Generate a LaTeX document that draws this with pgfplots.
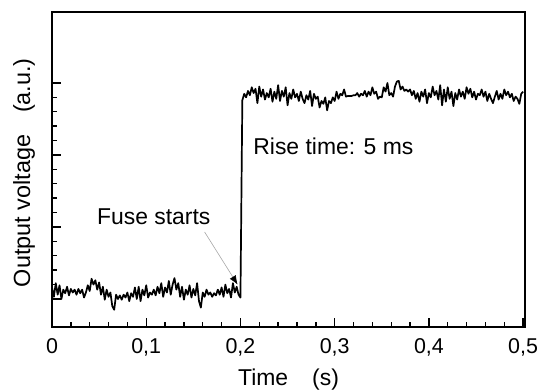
\documentclass[border=0pt]{standalone}
\usepackage{pgfplots}
\pgfplotsset{compat=1.18}
\usepackage{fontspec}
\setmainfont{Liberation Sans}
\usetikzlibrary{arrows.meta}
\pgfplotstableread{
t v
0.000 1.16
0.002 1.03
0.004 1.22
0.006 1.06
0.008 1.19
0.010 1.00
0.012 1.13
0.014 1.08
0.016 1.17
0.018 1.05
0.020 1.14
0.022 1.09
0.024 1.13
0.026 1.06
0.028 1.14
0.030 1.08
0.032 1.13
0.034 1.02
0.036 1.09
0.038 1.19
0.040 1.11
0.042 1.28
0.044 1.20
0.046 1.26
0.048 1.13
0.050 1.23
0.052 1.06
0.054 1.17
0.056 0.99
0.058 1.13
0.060 1.03
0.062 1.09
0.064 0.90
0.066 0.85
0.068 1.06
0.070 1.00
0.072 1.05
0.074 0.99
0.076 1.06
0.078 1.02
0.080 1.09
0.082 0.97
0.084 1.08
0.086 1.03
0.088 1.16
0.090 1.00
0.092 1.17
0.094 0.97
0.096 1.13
0.098 1.05
0.100 1.19
0.102 1.02
0.104 1.09
0.106 1.06
0.108 1.13
0.110 1.05
0.112 1.17
0.114 1.08
0.116 1.22
0.118 1.03
0.120 1.16
0.122 1.09
0.124 1.25
0.126 1.06
0.128 1.20
0.130 1.29
0.132 1.13
0.134 1.22
0.136 1.03
0.138 1.17
0.140 0.99
0.142 1.13
0.144 1.06
0.146 1.19
0.148 1.02
0.150 1.14
0.152 1.05
0.154 1.22
0.156 0.97
0.158 0.88
0.160 1.09
0.162 1.03
0.164 1.13
0.166 1.06
0.168 1.09
0.170 1.03
0.172 1.08
0.174 1.05
0.176 1.13
0.178 1.06
0.180 1.16
0.182 1.03
0.184 1.20
0.186 1.08
0.188 1.14
0.190 1.02
0.192 1.22
0.194 1.09
0.196 1.17
0.198 1.06
0.200 1.02
0.202 3.76
0.204 3.85
0.206 3.80
0.208 3.89
0.210 3.83
0.212 3.94
0.214 3.86
0.216 3.92
0.218 3.72
0.220 3.95
0.222 3.81
0.224 3.91
0.226 3.77
0.228 3.86
0.230 3.80
0.232 3.92
0.234 3.74
0.236 3.88
0.238 3.78
0.240 3.97
0.242 3.75
0.244 3.89
0.246 3.81
0.248 3.94
0.250 3.69
0.252 3.86
0.254 3.78
0.256 3.91
0.258 3.80
0.260 3.85
0.262 3.75
0.264 3.88
0.266 3.78
0.268 3.72
0.270 3.83
0.272 3.77
0.274 3.89
0.276 3.68
0.278 3.85
0.280 3.78
0.282 3.81
0.284 3.66
0.286 3.75
0.288 3.71
0.290 3.80
0.292 3.62
0.294 3.75
0.296 3.72
0.298 3.80
0.300 3.75
0.302 3.88
0.304 3.78
0.306 3.85
0.308 3.83
0.310 3.91
0.312 3.81
0.314 3.82
0.316 3.82
0.318 3.82
0.320 3.83
0.322 3.83
0.324 3.86
0.326 3.81
0.328 3.85
0.330 3.83
0.332 3.89
0.334 3.81
0.336 3.88
0.338 3.83
0.340 3.94
0.342 3.85
0.344 3.88
0.346 3.78
0.348 3.81
0.350 3.80
0.352 3.94
0.354 3.88
0.356 4.00
0.358 3.83
0.360 3.86
0.362 3.81
0.364 3.95
0.366 4.02
0.368 4.03
0.370 3.91
0.372 3.95
0.374 3.89
0.376 3.91
0.378 3.88
0.380 3.91
0.382 3.83
0.384 3.89
0.386 3.78
0.388 3.86
0.390 3.74
0.392 3.88
0.394 3.81
0.396 3.91
0.398 3.72
0.400 3.86
0.402 3.80
0.404 3.95
0.406 3.83
0.408 3.89
0.410 3.77
0.412 3.97
0.414 3.69
0.416 3.91
0.418 3.74
0.420 3.94
0.422 3.78
0.424 3.88
0.426 3.68
0.428 3.86
0.430 3.77
0.432 3.91
0.434 3.81
0.436 3.88
0.438 3.78
0.440 3.94
0.442 3.85
0.444 3.92
0.446 3.80
0.448 3.88
0.450 3.77
0.452 3.85
0.454 3.83
0.456 3.91
0.458 3.81
0.460 3.88
0.462 3.75
0.464 3.85
0.466 3.78
0.468 3.72
0.470 3.81
0.472 3.89
0.474 3.77
0.476 3.85
0.478 3.78
0.480 3.91
0.482 3.83
0.484 3.88
0.486 3.80
0.488 3.85
0.490 3.75
0.492 3.81
0.494 3.78
0.496 3.71
0.498 3.85
0.500 3.88
}\sig
\begin{document}
\begin{tikzpicture}
\path[use as bounding box] (-52bp,-65bp) rectangle (488bp,327bp);
\begin{axis}[
  scale only axis,
  width=473bp, height=315bp,
  xmin=0, xmax=0.502,
  ymin=0.611, ymax=4.986,
  axis line style={line width=1.7bp},
  tick align=inside,
  xtick pos=bottom, ytick pos=left,
  xtick={0,0.1,0.2,0.3,0.4,0.5},
  xticklabels={0,{0,1},{0,2},{0,3},{0,4},{0,5}},
  minor x tick num=4,
  ytick={1,2,3,4},
  yticklabels={},
  minor y tick num=4,
  major tick length=9bp,
  minor tick length=5bp,
  every tick/.style={line width=1.4bp, black},
  tick label style={font=\fontsize{21.5}{24}\selectfont, yshift=-8bp},
  xlabel={Time\hspace{24bp}(s)},
  ylabel={Output voltage\hspace{22bp}(a.u.)},
  xlabel style={font=\fontsize{23}{26}\selectfont, at={(axis description cs:0.5,-0.166)}, anchor=center},
  ylabel style={font=\fontsize{23.5}{26}\selectfont, at={(axis description cs:-0.059,0.49)}, anchor=center},
  clip=false,
]
\addplot[black, line width=1.7bp, line join=round] table[x=t,y=v] {\sig};
\node[anchor=base, font=\fontsize{23}{26}\selectfont] at (axis cs:0.108,2.03) {Fuse starts};
\node[anchor=base west, font=\fontsize{23}{26}\selectfont] at (axis cs:0.21,3.0) {Rise time: 5 ms};
\draw[gray!70, line width=0.6bp, -{Latex[length=9bp,width=7bp,black]}] (axis cs:0.162,1.93) -- (axis cs:0.197,1.20);
\end{axis}
\end{tikzpicture}
\end{document}
